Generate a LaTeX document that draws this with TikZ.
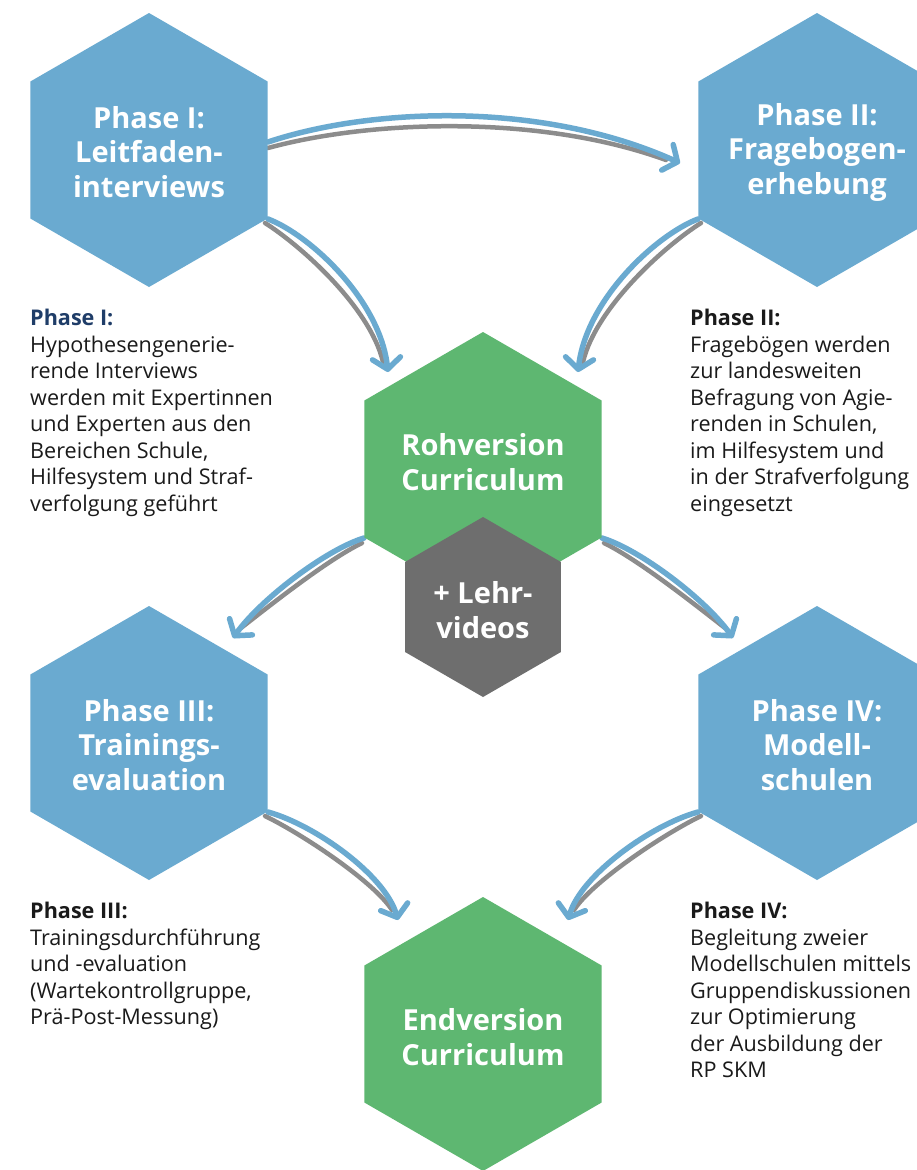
\documentclass[tikz,border=0pt]{standalone}
\usepackage{fontspec}
\setmainfont{Open Sans}
\usetikzlibrary{arrows.meta,calc}
\definecolor{hexblue}{RGB}{106,170,208}
\definecolor{hexgreen}{RGB}{94,183,113}
\definecolor{hexgray}{RGB}{110,110,110}
\definecolor{arrowblue}{RGB}{106,170,208}
\definecolor{arrowgray}{RGB}{140,140,140}
\definecolor{textblack}{RGB}{26,26,26}
\definecolor{navy}{RGB}{31,61,104}
\newcommand\drawhex[4]{\fill[#4] ({#1},{#2-#3}) -- ({#1+0.866*#3},{#2-0.5*#3}) -- ({#1+0.866*#3},{#2+0.5*#3}) -- ({#1},{#2+#3}) -- ({#1-0.866*#3},{#2+0.5*#3}) -- ({#1-0.866*#3},{#2-0.5*#3}) -- cycle;}
\tikzset{
  hexlabel/.style={text=white, font=\bfseries\fontsize{29}{34.5}\selectfont, align=center, inner sep=0pt},
  desc/.style={text=textblack, font=\fontsize{21.6}{26.5}\selectfont, align=left, anchor=north west, inner sep=0pt},
  bluearrow/.style={draw=arrowblue, line width=5.5pt, line cap=round, -{Straight Barb[length=11pt,width=28pt,round]}},
  shadowline/.style={draw=arrowgray, line width=4.5pt, line cap=round}
}
\begin{document}
\begin{tikzpicture}[x=1pt,y=-1pt]
\useasboundingbox (0,0) rectangle (917,1170);
\clip (0,0) rectangle (917,1170);
\fill[white] (0,0) rectangle (917,1170);

% connector end points
\coordinate (a1s) at (268,142); \coordinate (a1e) at (680,163);
\coordinate (g1s) at (268,148); \coordinate (g1e) at (666,160);
\coordinate (a2s) at (268,219); \coordinate (a2e) at (388,372);
\coordinate (g2s) at (265,223); \coordinate (g2e) at (383,362);
\coordinate (a3s) at (698,219); \coordinate (a3e) at (578,372);
\coordinate (g3s) at (701,223); \coordinate (g3e) at (583,362);
\coordinate (a4s) at (364,538); \coordinate (a4e) at (233,638);
\coordinate (g4s) at (362,543); \coordinate (g4e) at (241,628);
\coordinate (a5s) at (602,538); \coordinate (a5e) at (733,638);
\coordinate (g5s) at (604,543); \coordinate (g5e) at (725,628);
\coordinate (a6s) at (268,812); \coordinate (a6e) at (398,920);
\coordinate (g6s) at (265,816); \coordinate (g6e) at (392,910);
\coordinate (a7s) at (698,812); \coordinate (a7e) at (568,920);
\coordinate (g7s) at (701,816); \coordinate (g7e) at (574,910);

% shadow lines
\draw[shadowline] (g1s) .. controls (370,120) and (540,114) .. (g1e);
\draw[shadowline] (g2s) .. controls (300,245) and (370,307) .. (g2e);
\draw[shadowline] (g3s) .. controls (666,245) and (596,307) .. (g3e);
\draw[shadowline] (g4s) .. controls (327,560) and (268,607) .. (g4e);
\draw[shadowline] (g5s) .. controls (639,560) and (698,607) .. (g5e);
\draw[shadowline] (g6s) .. controls (304,835) and (374,882) .. (g6e);
\draw[shadowline] (g7s) .. controls (662,835) and (592,882) .. (g7e);

% blue arrows
\draw[bluearrow] (a1s) .. controls (370,108) and (540,100) .. (a1e);
\draw[bluearrow] (a2s) .. controls (310,235) and (380,300) .. (a2e);
\draw[bluearrow] (a3s) .. controls (656,235) and (586,300) .. (a3e);
\draw[bluearrow] (a4s) .. controls (325,550) and (260,600) .. (a4e);
\draw[bluearrow] (a5s) .. controls (641,550) and (706,600) .. (a5e);
\draw[bluearrow] (a6s) .. controls (315,825) and (385,875) .. (a6e);
\draw[bluearrow] (a7s) .. controls (651,825) and (581,875) .. (a7e);

% hexagons
\drawhex{149}{150}{137}{hexblue}
\drawhex{817}{150}{137}{hexblue}
\drawhex{483}{469}{137}{hexgreen}
\drawhex{483}{607}{90}{hexgray}
\drawhex{149}{743}{137}{hexblue}
\drawhex{817}{743}{137}{hexblue}
\drawhex{483}{1034}{137}{hexgreen}

% hexagon labels
\node[hexlabel] (p1) at (149,152) {Phase I:\\Leitfaden-\\interviews};
\node[hexlabel] (p2) at (817,152) {Phase II:\\Fragebogen-\\erhebung};
\node[hexlabel] (roh) at (483,462) {Rohversion\\Curriculum};
\node[hexlabel] (lehr) at (483,610) {+ Lehr-\\videos};
\node[hexlabel] (p3) at (149,745) {Phase III:\\Trainings-\\evaluation};
\node[hexlabel] (p4) at (817,745) {Phase IV:\\Modell-\\schulen};
\node[hexlabel] (end) at (483,1037) {Endversion\\Curriculum};

% descriptions
\node[desc] (d1) at (30,309) {{\bfseries\color{navy}Phase I:}\\Hypothesengenerie-\\rende Interviews\\werden mit Expertinnen\\und Experten aus den\\Bereichen Schule,\\Hilfesystem und Straf-\\verfolgung geführt};
\node[desc] (d2) at (690,309) {{\bfseries Phase II:}\\Fragebögen werden\\zur landesweiten\\Befragung von Agie-\\renden in Schulen,\\im Hilfesystem und\\in der Strafverfolgung\\eingesetzt};
\node[desc] (d3) at (30,902) {{\bfseries Phase III:}\\Trainingsdurchführung\\und -evaluation\\(Wartekontrollgruppe,\\Prä-Post-Messung)};
\node[desc] (d4) at (690,902) {{\bfseries Phase IV:}\\Begleitung zweier\\Modellschulen mittels\\Gruppendiskussionen\\zur Optimierung\\der Ausbildung der\\RP SKM};
\end{tikzpicture}
\end{document}
